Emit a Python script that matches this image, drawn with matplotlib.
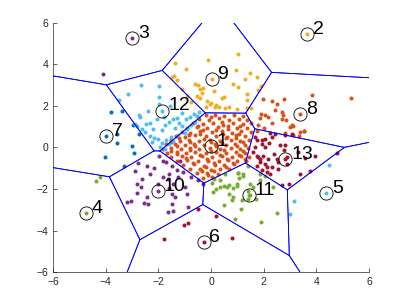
import numpy as np
import matplotlib
matplotlib.use('Agg')
import matplotlib.pyplot as plt

plt.rcParams['font.family'] = ['Liberation Sans', 'DejaVu Sans']

# centroids (label order 1..13)
cx = [0.0, 3.66, -2.99, -4.76, 4.37, -0.28, -3.99, 3.39, 0.03, -2.01, 1.43, -1.85, 2.82]
cy = [0.05, 5.46, 5.27, -3.17, -2.2, -4.56, 0.56, 1.6, 3.28, -2.12, -2.27, 1.78, -0.56]
labels = [str(i) for i in range(1, 14)]

# MATLAB default colour order, cluster k uses colour k mod 7
colororder = ['#0072BD', '#D95319', '#EDB120', '#7E2F8E', '#77AC30', '#4DBEEE', '#A2142F']

c1 = [(-0.2, 1.55), (0.15, 1.58), (0.5, 1.52), (0.88, 1.56), (1.2, 1.5),
      (-0.45, 1.38), (-0.08, 1.33), (0.32, 1.4), (0.7, 1.32), (1.05, 1.37), (1.38, 1.3),
      (-0.68, 1.17), (-0.3, 1.12), (0.08, 1.18), (0.47, 1.1), (0.85, 1.16), (1.22, 1.12), (1.5, 1.2),
      (-0.92, 0.95), (-0.55, 0.98), (-0.15, 0.92), (0.25, 0.97), (0.63, 0.9), (1.0, 0.96), (1.35, 0.93),
      (-1.1, 0.76), (-0.78, 0.72), (-0.4, 0.78), (0.02, 0.73), (0.4, 0.77), (0.8, 0.71), (1.15, 0.78), (1.5, 0.74),
      (-1.33, 0.56), (-0.98, 0.52), (-0.6, 0.58), (-0.2, 0.53), (0.2, 0.57), (0.6, 0.52), (0.95, 0.58), (1.3, 0.55),
      (-1.52, 0.36), (-1.18, 0.33), (-0.85, 0.38), (-0.45, 0.32), (-0.05, 0.37), (0.35, 0.33), (0.75, 0.38),
      (1.1, 0.32), (1.45, 0.36),
      (-1.7, 0.15), (-1.35, 0.18), (-1.0, 0.13), (-0.65, 0.17), (-0.25, 0.12), (0.15, 0.16), (0.55, 0.13),
      (0.9, 0.18), (1.3, 0.14),
      (-1.82, -0.05), (-1.5, -0.02), (-1.15, -0.07), (-0.8, -0.03), (-0.45, -0.06), (-0.05, -0.02), (0.35, -0.07),
      (0.75, -0.03), (1.1, -0.06), (1.42, -0.02),
      (-1.68, -0.25), (-1.3, -0.22), (-0.95, -0.27), (-0.6, -0.23), (-0.2, -0.26), (0.2, -0.22), (0.55, -0.27),
      (0.95, -0.23), (1.3, -0.25),
      (-1.5, -0.45), (-1.12, -0.42), (-0.75, -0.47), (-0.35, -0.43), (0.05, -0.46), (0.4, -0.42), (0.8, -0.47),
      (1.15, -0.43), (1.45, -0.46),
      (-1.28, -0.65), (-0.9, -0.62), (-0.5, -0.67), (-0.1, -0.63), (0.3, -0.66), (0.65, -0.62), (1.0, -0.67), (1.32, -0.64),
      (-1.05, -0.85), (-0.65, -0.82), (-0.25, -0.87), (0.15, -0.83), (0.5, -0.86), (0.88, -0.82),
      (-0.8, -1.05), (-0.4, -1.02), (0.0, -1.07), (0.35, -1.03), (0.7, -1.06),
      (-0.55, -1.25), (-0.15, -1.22), (0.25, -1.27), (-0.3, -1.45), (0.05, -1.42),
      (0.0, 1.45), (0.4, 1.25), (-0.5, 1.05), (0.65, 1.05), (1.1, 1.02), (-0.3, 0.85), (0.2, 0.84), (-0.85, 0.62),
      (-0.4, 0.65), (0.45, 0.64), (1.05, 0.65), (-1.2, 0.45), (-0.25, 0.43), (0.55, 0.45), (0.95, 0.45),
      (-1.5, 0.25), (-0.8, 0.25), (0.0, 0.25), (0.4, 0.23), (1.2, 0.24), (-1.3, 0.05), (-0.6, 0.05), (0.2, 0.05),
      (1.0, 0.06), (-1.5, -0.15), (-0.8, -0.14), (0.0, -0.15), (0.5, -0.13), (1.2, -0.15), (-1.3, -0.33),
      (-0.4, -0.35), (0.35, -0.34), (1.05, -0.34), (-0.95, -0.53), (-0.15, -0.55), (0.6, -0.55), (1.3, -0.55),
      (-0.7, -0.74), (0.1, -0.74), (0.85, -0.74), (-0.2, -0.95), (0.55, -0.95), (-0.35, -1.15), (0.1, -1.15),
      (-0.1, -1.33)]
c2 = [(3.66, 5.46)]
c3 = [(-2.99, 5.27), (-4.1, 3.55)]
c4 = [(-4.76, -3.17), (-4.37, -1.6), (-4.2, -1.43)]
c5 = [(4.37, -2.2), (4.46, -0.83), (3.15, -2.6), (3.0, -3.2)]
c6 = [(-0.28, -4.56), (-1.8, -4.43), (-1.03, -3.71), (-0.87, -3.63), (-0.5, -2.95), (0.17, -3.31), (0.81, -4.37)]
c7 = [(-3.99, 0.56), (-3.81, 1.73), (-3.39, 1.78), (-2.97, 1.09), (-2.72, 0.66), (-3.58, 0.66), (-3.56, 0.21),
      (-3.0, 0.08), (-2.92, -0.26), (-4.04, -0.45), (-3.3, -0.88)]
c8 = [(3.39, 1.6), (1.99, 2.31), (2.3, 2.26), (2.75, 2.31), (3.82, 2.54), (5.32, 2.39), (2.52, 2.07), (2.43, 1.82),
      (2.68, 1.7), (2.16, 1.49), (2.05, 1.55), (2.3, 1.17), (1.9, 1.59), (1.85, 1.4), (2.7, 1.35), (2.85, 1.3),
      (3.0, 0.98), (3.1, 1.05), (3.38, 0.74), (3.53, 0.79), (2.81, 0.69), (3.1, 0.58), (3.32, 0.55), (3.51, 0.77),
      (2.73, 1.54), (3.08, 1.07), (1.8, 1.1), (2.0, 0.95), (1.75, 0.8)]
c9 = [(0.03, 3.28), (-1.37, 4.08), (-0.95, 3.76), (-0.1, 4.19), (1.04, 4.52), (-1.48, 3.37), (-1.4, 3.45),
      (-1.3, 3.23), (-1.11, 2.83), (-0.61, 3.04), (-0.5, 3.0), (-0.42, 2.8), (-0.3, 2.85), (-0.53, 2.46),
      (-0.4, 2.4), (-0.15, 2.22), (0.0, 2.15), (0.15, 1.93), (0.3, 1.95), (0.95, 3.71), (1.48, 3.58), (1.29, 3.31),
      (1.74, 3.39), (0.85, 3.04), (1.04, 2.91), (1.89, 2.94), (1.8, 2.75), (1.36, 2.59), (1.36, 2.3), (0.42, 2.36),
      (0.5, 2.45), (-0.34, 2.6), (-0.04, 2.07), (0.2, 2.05), (0.53, 1.88), (0.7, 1.95), (1.0, 1.85), (1.37, 1.88),
      (1.5, 1.9), (-0.75, 2.2), (-0.9, 2.5), (0.1, 2.7), (-0.2, 1.95)]
c10 = [(-2.01, -2.12), (-2.79, -0.75), (-2.44, -0.87), (-2.9, -1.15), (-2.3, -1.27), (-2.62, -1.51), (-2.82, -1.75),
       (-2.65, -1.9), (-2.82, -2.2), (-2.44, -2.39), (-2.56, -2.67), (-2.38, -2.72), (-3.2, -2.63), (-3.05, -2.58),
       (-1.83, -0.66), (-1.7, -0.71), (-1.97, -0.43), (-1.58, -1.27), (-1.49, -0.87), (-1.18, -0.63), (-1.81, -1.43),
       (-1.43, -1.75), (-1.24, -1.43), (-0.99, -1.91), (-0.92, -2.23), (-1.49, -2.23), (-1.37, -2.39), (-1.49, -2.72),
       (-1.62, -3.12), (-1.43, -3.07), (-0.87, -2.88), (-0.48, -1.59), (-0.29, -1.75), (-2.0, -1.75), (-1.6, -1.95),
       (-1.3, -1.1), (-1.05, -1.2), (-2.15, -1.0), (-0.75, -1.4), (-1.65, -1.5)]
c11 = [(1.43, -2.27), (1.42, -0.87), (1.23, -1.27), (1.04, -1.24), (0.53, -1.27), (0.03, -1.72), (0.09, -2.15),
       (0.34, -1.91), (0.5, -1.85), (0.7, -1.8), (0.85, -1.95), (1.0, -1.85), (0.85, -2.39), (1.16, -2.52),
       (1.48, -1.75), (1.6, -1.9), (1.86, -1.59), (2.37, -1.91), (2.49, -3.16), (1.89, -3.6), (0.91, -3.44),
       (1.13, -2.96), (0.49, -2.76), (1.01, -1.24), (1.23, -1.35), (1.06, -1.46), (0.97, -1.75), (1.42, -2.1),
       (0.68, -2.23), (1.48, -2.3), (0.6, -1.91), (0.79, -2.55), (1.42, -2.47), (1.86, -1.27), (2.05, -1.35),
       (0.1, -1.5), (0.35, -1.55), (1.7, -2.5), (0.2, -2.0)]
c12 = [(-1.85, 1.78), (-3.49, 2.3), (-3.16, 2.59), (-2.67, 3.02), (-1.96, 2.97), (-1.97, 2.42), (-1.99, 2.07),
       (-2.75, 1.54), (-2.7, 1.45), (-2.89, 1.14), (-2.82, 1.01), (-2.47, 1.14), (-2.33, 1.2), (-2.63, 0.9),
       (-2.5, 0.75), (-2.3, 0.55), (-2.15, 0.47), (-2.0, 0.4), (-1.87, 0.82), (-1.75, 1.1), (-1.6, 1.25),
       (-1.45, 1.35), (-1.3, 1.4), (-1.2, 1.2), (-1.35, 0.95), (-1.1, 1.05), (-0.95, 1.35), (-0.8, 1.45),
       (-0.65, 1.6), (-0.55, 1.5), (-0.45, 1.7), (-1.0, 0.7), (-1.25, 0.6), (-1.5, 0.5), (-1.7, 0.35),
       (-1.85, 0.2), (-1.6, 0.15), (-1.45, 0.3), (-1.95, 0.0), (-1.75, -0.05), (-2.2, 0.9), (-2.05, 1.35),
       (-1.8, 1.45), (-2.4, 1.75), (-1.55, 2.0), (-1.1, 1.65), (-0.9, 0.9), (-0.75, 1.1), (-0.6, 1.25), (-2.25, 0.25)]
c13 = [(2.82, -0.56), (1.67, 0.5), (1.92, 0.34), (2.05, 0.4), (2.3, 0.5), (2.24, 0.69), (2.43, 0.63), (2.81, 0.58),
       (3.06, 0.66), (1.73, 0.34), (1.93, 0.18), (1.67, 0.02), (2.05, 0.02), (2.62, 0.1), (2.81, 0.1), (2.75, -0.14),
       (2.87, -0.47), (1.73, -0.39), (1.86, -0.55), (2.18, -0.55), (2.05, -0.79), (1.73, -0.87), (2.3, -0.95),
       (2.12, -1.19), (2.56, -0.71), (1.8, -0.47), (1.98, -0.39), (1.86, -0.71), (2.11, -0.95), (2.24, -1.27),
       (2.56, -1.03), (2.94, -1.75), (2.68, -1.83), (2.52, -0.55), (2.87, -0.79), (3.38, -1.27), (3.76, -1.11),
       (3.95, -0.39), (4.77, -0.26), (3.3, -0.2), (2.4, -0.3), (1.6, -0.2), (2.2, 0.2), (3.55, -0.5), (1.95, -1.1)]

clusters = [c1, c2, c3, c4, c5, c6, c7, c8, c9, c10, c11, c12, c13]


def clip(poly, a, b, c):
    # keep part of polygon with a*x + b*y <= c
    out = []
    n = len(poly)
    for k in range(n):
        p, q = poly[k], poly[(k + 1) % n]
        fp = a * p[0] + b * p[1] - c
        fq = a * q[0] + b * q[1] - c
        if fp <= 0:
            out.append(p)
        if fp * fq < 0:
            t = fp / (fp - fq)
            out.append((p[0] + t * (q[0] - p[0]), p[1] + t * (q[1] - p[1])))
    return out


B = 40.0
fig = plt.figure(figsize=(4.07, 3.05), dpi=100)
ax = fig.add_axes([0.13, 0.108, 0.777, 0.817])

for k, pts in enumerate(clusters):
    p = np.array(pts)
    ax.plot(p[:, 0], p[:, 1], 'o', ms=2.9, mew=0, color=colororder[(k + 1) % 7], zorder=2)

# voronoi cells of the centroids
for i in range(len(cx)):
    poly = [(-B, -B), (B, -B), (B, B), (-B, B)]
    for j in range(len(cx)):
        if i == j:
            continue
        a, b = cx[j] - cx[i], cy[j] - cy[i]
        c = a * (cx[i] + cx[j]) / 2 + b * (cy[i] + cy[j]) / 2
        poly = clip(poly, a, b, c)
    n = len(poly)
    for k in range(n):
        p, q = poly[k], poly[(k + 1) % n]
        if (abs(p[0]) == B and p[0] == q[0]) or (abs(p[1]) == B and p[1] == q[1]):
            continue
        ax.plot([p[0], q[0]], [p[1], q[1]], color='b', lw=0.6, zorder=3)

ax.plot(cx, cy, 'o', ms=9.5, mfc='none', mec='k', mew=0.6, zorder=4)
for x, y, s in zip(cx, cy, labels):
    ax.text(x + 0.22, y + 0.22, s, fontsize=14, ha='left', va='center', zorder=5)

ax.set_xlim(-6, 6)
ax.set_ylim(-6, 6)
ax.set_xticks(range(-6, 7, 2))
ax.set_yticks(range(-6, 7, 2))
ax.spines['top'].set_visible(False)
ax.spines['right'].set_visible(False)
for sp in ['left', 'bottom']:
    ax.spines[sp].set_color('#262626')
    ax.spines[sp].set_linewidth(0.5)
ax.tick_params(direction='in', length=3, width=0.5, color='#262626', labelcolor='#262626', labelsize=7.5)

fig.savefig('out.png', dpi=100)
